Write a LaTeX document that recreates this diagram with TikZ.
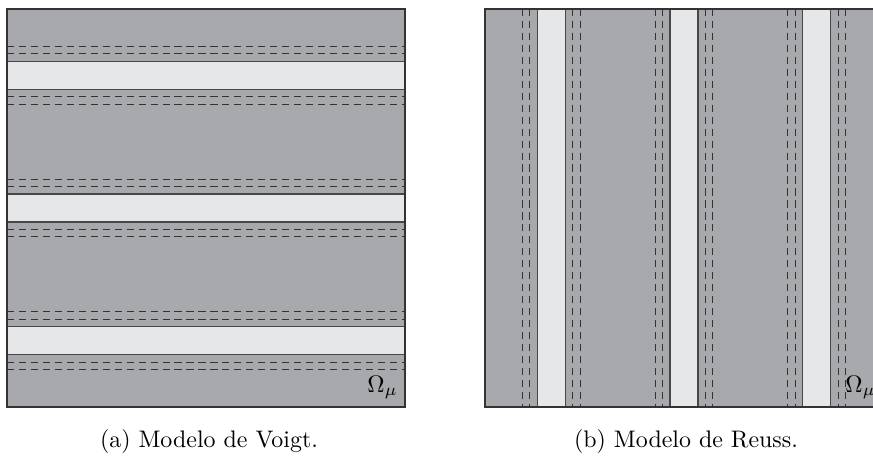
\documentclass[tikz,border=0pt]{standalone}
\begin{document}
\begin{tikzpicture}[x=0.418pt,y=-0.418pt]
\definecolor{matrixgray}{HTML}{A7A9AC}
\definecolor{fibre}{HTML}{E6E7E8}
\tikzset{
  cellborder/.style={draw=black!80, line width=0.5pt},
  layer/.style={fill=fibre, draw=black!72, line width=0.55pt},
  interface/.style={draw=black!80, line width=0.4pt, dash pattern=on 3pt off 2pt},
  subcaption/.style={anchor=base, inner sep=0pt},
  omegalabel/.style={anchor=base west, inner sep=0pt}
}
\def\cellside{398}
\def\halfw{14}
\def\gapA{7.5}
\def\gapB{14.8}
\useasboundingbox (0,0) rectangle (873,457);
\clip (0,0) rectangle (873,457);

% Voigt model: horizontal layers
\begin{scope}[shift={(7,9)}]
  \fill[matrixgray] (0,0) rectangle (\cellside,\cellside);
  \foreach \c in {66.3,199,331.7}{
    \foreach \d in {-\halfw-\gapB,-\halfw-\gapA,\halfw+\gapA,\halfw+\gapB}
      \draw[interface] (0,\c+\d) -- (\cellside,\c+\d);
    \draw[layer] (0,\c-\halfw) rectangle (\cellside,\c+\halfw);
  }
  \draw[cellborder] (0,0) rectangle (\cellside,\cellside);
  \node[omegalabel] (omegaA) at (360,383) {$\Omega_\mu$};
\end{scope}

% Reuss model: vertical layers
\begin{scope}[shift={(485,9)}]
  \fill[matrixgray] (0,0) rectangle (\cellside,\cellside);
  \foreach \c in {66.3,199,331.7}{
    \foreach \d in {-\halfw-\gapB,-\halfw-\gapA,\halfw+\gapA,\halfw+\gapB}
      \draw[interface] (\c+\d,0) -- (\c+\d,\cellside);
    \draw[layer] (\c-\halfw,0) rectangle (\c+\halfw,\cellside);
  }
  \draw[cellborder] (0,0) rectangle (\cellside,\cellside);
  \node[omegalabel] (omegaB) at (360,383) {$\Omega_\mu$};
\end{scope}

\node[subcaption] (capA) at (209,448) {(a) Modelo de Voigt.};
\node[subcaption] (capB) at (686,448) {(b) Modelo de Reuss.};
\end{tikzpicture}
\end{document}
